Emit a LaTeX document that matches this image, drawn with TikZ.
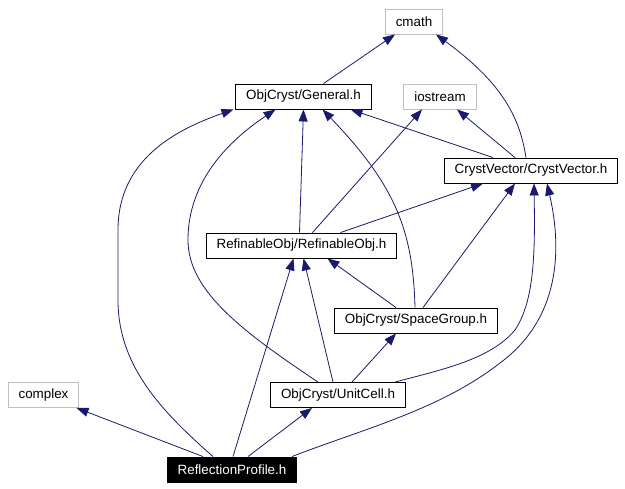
\documentclass[tikz,border=0pt]{standalone}
\usepackage{fontspec}
\setmainfont{Liberation Sans}
\usetikzlibrary{arrows.meta}
\definecolor{edgeblue}{HTML}{191970}
\definecolor{extgray}{HTML}{BFBFBF}

\begin{document}
\begin{tikzpicture}[x=1pt, y=-1pt, ->, >={Triangle[length=12pt,width=9pt]}, file/.style = {rectangle, draw=black, line width=0.9pt, inner xsep=10.5pt, inner ysep=0pt, minimum height=25pt, font=\fontsize{13.4}{15}\selectfont}, extfile/.style={file, draw=extgray}, mainfile/.style={file, fill=black, text=white}, dep/.style={edgeblue, line width=0.8pt}, every edge/.append style={dep}]

\useasboundingbox (0,0) rectangle (625,489);

\node[extfile] (cmath) at (414,21.5) {cmath};
\node[file] (general) at (303.5,96.5) {ObjCryst/General.h};
\node[extfile] (iostream) at (440,96.5) {iostream};
\node[file] (cvec) at (531,170.5) {CrystVector/CrystVector.h};
\node[file] (refobj) at (301.5,245.5) {RefinableObj/RefinableObj.h};
\node[file] (spgroup) at (416,320.5) {ObjCryst/SpaceGroup.h};
\node[file] (ucell) at (338,395) {ObjCryst/UnitCell.h};
\node[extfile] (complex) at (43.5,395) {complex};
\node[mainfile] (reflprof) at (232,469.5) {ReflectionProfile.h};

\path
 ([xshift=20pt]general.north) edge ([xshift=-19pt]cmath.south)
 ([xshift=-38pt]cvec.north) edge ([xshift=47pt]general.south)
 ([xshift=-16pt]cvec.north) edge ([xshift=17pt]iostream.south)
 ([xshift=-2pt]refobj.north) edge (general.south)
 ([xshift=11pt]refobj.north) edge ([xshift=-18pt]iostream.south)
 ([xshift=39pt]refobj.north) edge ([xshift=-48pt]cvec.south)
 ([xshift=-20pt]spgroup.north) edge ([xshift=26pt]refobj.south)
 ([xshift=7pt]spgroup.north) edge ([xshift=-16pt]cvec.south)
 ([xshift=-5pt]ucell.north) edge ([xshift=2pt]refobj.south)
 ([xshift=14pt]ucell.north) edge ([xshift=-20pt]spgroup.south)
 ([xshift=-29pt]reflprof.north) edge ([xshift=33pt]complex.south)
 ([xshift=1pt]reflprof.north) edge ([xshift=-8pt]refobj.south)
 ([xshift=16pt]reflprof.north) edge ([xshift=-26pt]ucell.south);

% curved dependencies
\draw[dep] ([xshift=-5pt]cvec.north) .. controls (520,120) and (505,85) .. ([xshift=22pt]cmath.south);
\draw[dep] ([xshift=-1pt]spgroup.north) .. controls (413,230) and (395,185) .. ([xshift=19pt]general.south);
\draw[dep] ([xshift=-20pt]ucell.north) .. controls (240,330) and (188,290) .. (188,240)
  .. controls (188,180) and (230,140) .. ([xshift=-28pt]general.south);
\draw[dep] ([xshift=57pt]ucell.north) .. controls (440,370) and (490,360) .. (515,330)
  .. controls (535,300) and (535,250) .. ([xshift=3pt]cvec.south);
\draw[dep] ([xshift=-19pt]reflprof.north) .. controls (160,410) and (118,365) .. (118,300)
  -- (118,230) .. controls (118,160) and (175,130) .. ([xshift=-70pt]general.south);
\draw[dep] ([xshift=60pt]reflprof.north) .. controls (360,430) and (440,410) .. (500,363)
  .. controls (565,315) and (560,240) .. ([xshift=16pt]cvec.south);
\end{tikzpicture}
\end{document}
